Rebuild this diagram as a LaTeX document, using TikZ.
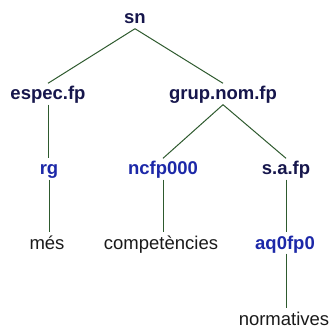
\documentclass[tikz,border=0pt]{standalone}
\usepackage{fontspec}
\setmainfont{Liberation Sans}
\definecolor{catcol}{HTML}{16164C}
\definecolor{poscol}{HTML}{1C28A8}
\definecolor{wordcol}{HTML}{1A1A1A}
\definecolor{edgecol}{HTML}{2E5A2E}
\begin{document}
\begin{tikzpicture}[x=1pt,y=-1pt,
  lbl/.style={anchor=base,inner xsep=0pt,inner ysep=1.5pt,text height=15pt,text depth=3pt,font=\fontsize{18.5}{20}\selectfont},
  catlbl/.style={lbl,text=catcol,font=\fontsize{18.5}{20}\selectfont\bfseries},
  poslbl/.style={lbl,text=poscol,font=\fontsize{18.5}{20}\selectfont\bfseries},
  wordlbl/.style={lbl,text=wordcol},
  edge/.style={draw=edgecol,line width=1pt}]
\useasboundingbox (0,0) rectangle (330,329);
\node[catlbl] (sn) at (135,24) {sn};
\node[catlbl] (espec) at (48,100) {espec.fp};
\node[catlbl] (grup) at (223,100) {grup.nom.fp};
\node[poslbl] (rg) at (49,175) {rg};
\node[poslbl] (ncfp) at (163,175) {ncfp000};
\node[catlbl] (sa) at (286,175) {s.a.fp};
\node[wordlbl] (mes) at (47,249) {més};
\node[wordlbl] (comp) at (161,249) {competències};
\node[poslbl] (aq) at (285,249) {aq0fp0};
\node[wordlbl] (norm) at (284,325) {normatives};
\draw[edge] (sn.south) -- (espec.north);
\draw[edge] (sn.south) -- (grup.north);
\draw[edge] (espec.south) -- (espec.south |- rg.north);
\draw[edge] (grup.south) -- (ncfp.north);
\draw[edge] (grup.south) -- (sa.north);
\draw[edge] (rg.south) -- (rg.south |- mes.north);
\draw[edge] (ncfp.south) -- (ncfp.south |- comp.north);
\draw[edge] (sa.south) -- (sa.south |- aq.north);
\draw[edge] (sa.south |- aq.south) -- (sa.south |- norm.north);
\end{tikzpicture}
\end{document}
